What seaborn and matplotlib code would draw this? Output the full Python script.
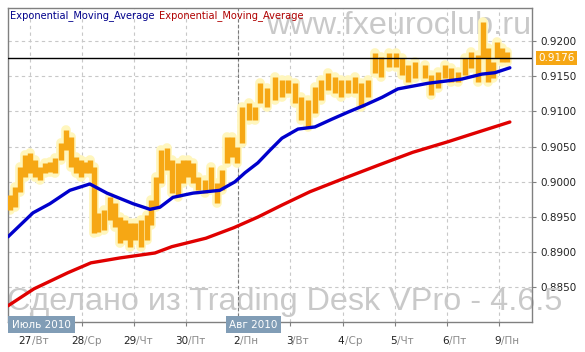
import matplotlib
matplotlib.use("Agg")
import matplotlib.pyplot as plt
import seaborn as sns
import numpy as np
import pandas as pd
from matplotlib.transforms import offset_copy

# ---------------- data (hours counted from 27 Jul 2010 00:00, trading time) ----------------
bar_hours = [-9.0, -6.7, -4.4, -2.1, 0.2, 2.5, 4.8, 7.1, 9.4, 11.7, 14.1, 16.4, 18.7, 21.0,
             23.3, 25.6, 27.9, 29.5, 31.3, 33.9, 37.1, 39.4, 41.7, 44.0, 46.3, 48.6, 51.1,
             53.9, 55.7, 58.0, 60.6, 63.3, 65.6, 68.0, 70.3, 72.6, 74.9, 77.6, 80.6, 83.6,
             86.4, 88.7, 91.0, 93.3, 95.6, 97.9, 100.7, 103.7, 106.2, 109.0, 112.9, 115.9,
             119.1, 122.1, 125.1, 128.3, 131.3, 134.3, 137.5, 140.5, 143.5, 146.7, 149.7,
             152.7, 155.9, 158.9, 161.9, 165.2, 168.6, 171.4, 174.4, 177.6, 182.0, 185.0,
             188.2, 191.2, 194.2, 197.4, 200.4, 203.4, 206.6, 208.9, 211.2, 213.5, 215.4,
             217.7, 220.0]
bar_high = [0.8981, 0.8993, 0.9021, 0.9038, 0.9041, 0.9031, 0.9021, 0.9027, 0.9028, 0.9034,
            0.9055, 0.9074, 0.9064, 0.9035, 0.9031, 0.9028, 0.9031, 0.9021, 0.8956, 0.8960,
            0.8978, 0.8970, 0.8950, 0.8946, 0.8942, 0.8942, 0.8946, 0.8953, 0.8974, 0.9007,
            0.9045, 0.9048, 0.9031, 0.9027, 0.9031, 0.9031, 0.9027, 0.9007, 0.9003, 0.9021,
            0.8998, 0.9017, 0.9064, 0.9064, 0.9050, 0.9106, 0.9112, 0.9106, 0.9140, 0.9133,
            0.9149, 0.9145, 0.9145, 0.9140, 0.9120, 0.9116, 0.9135, 0.9145, 0.9155, 0.9149,
            0.9145, 0.9145, 0.9149, 0.9140, 0.9145, 0.9183, 0.9177, 0.9183, 0.9183, 0.9176,
            0.9166, 0.9170, 0.9166, 0.9152, 0.9156, 0.9166, 0.9162, 0.9156, 0.9176, 0.9184,
            0.9180, 0.9227, 0.9190, 0.9170, 0.9199, 0.9190, 0.9184]
bar_low = [0.8960, 0.8964, 0.8986, 0.9007, 0.9013, 0.9007, 0.9003, 0.9013, 0.9014, 0.9013,
           0.9031, 0.9045, 0.9021, 0.9013, 0.9007, 0.9013, 0.9013, 0.8927, 0.8929, 0.8932,
           0.8946, 0.8936, 0.8913, 0.8917, 0.8908, 0.8917, 0.8908, 0.8917, 0.8939, 0.8964,
           0.8998, 0.9017, 0.8984, 0.8978, 0.8998, 0.9007, 0.8998, 0.8988, 0.8984, 0.8988,
           0.8970, 0.8988, 0.9027, 0.9035, 0.9027, 0.9055, 0.9088, 0.9088, 0.9112, 0.9106,
           0.9116, 0.9120, 0.9126, 0.9112, 0.9088, 0.9078, 0.9098, 0.9116, 0.9130, 0.9126,
           0.9120, 0.9126, 0.9126, 0.9106, 0.9120, 0.9155, 0.9149, 0.9163, 0.9163, 0.9152,
           0.9142, 0.9147, 0.9147, 0.9123, 0.9133, 0.9147, 0.9142, 0.9142, 0.9152, 0.9162,
           0.9142, 0.9176, 0.9142, 0.9147, 0.9176, 0.9170, 0.9170]

ema_fast_hours = [-10.1, 1.4, 9.2, 18.4, 27.6, 35.5, 47.5, 55.3, 59.9, 65.9, 75.1, 87.5,
                  94.4, 99.1, 105.0, 110.6, 116.1, 123.5, 131.3, 139.1, 146.5, 154.3, 162.2,
                  169.5, 183.4, 199.0, 208.2, 214.2, 221.1]
ema_fast = [0.8922, 0.8956, 0.8969, 0.8988, 0.8997, 0.8984, 0.8969, 0.8961, 0.8964, 0.8978,
            0.8984, 0.8988, 0.9000, 0.9013, 0.9027, 0.9045, 0.9062, 0.9075, 0.9078, 0.9089,
            0.9099, 0.9109, 0.9120, 0.9132, 0.9140, 0.9146, 0.9153, 0.9155, 0.9162]

ema_slow_hours = [-10.1, 1.8, 17.5, 28.1, 41.5, 57.6, 65.4, 81.1, 94.0, 105.0, 116.1, 129.0,
                  144.7, 160.8, 176.4, 192.6, 202.7, 221.1]
ema_slow = [0.8824, 0.8848, 0.8871, 0.8885, 0.8892, 0.8899, 0.8908, 0.8920, 0.8935, 0.8950,
            0.8967, 0.8986, 0.9005, 0.9024, 0.9042, 0.9057, 0.9067, 0.9085]

last_price = 0.9176
day_hours = [0, 24, 48, 72, 96, 120, 144, 168, 192, 216]
day_nums = ["27", "28", "29", "30", "2", "3", "4", "5", "6", "9"]
day_names = ["Вт", "Ср", "Чт", "Пт", "Пн", "Вт", "Ср", "Чт", "Пт", "Пн"]
month_labels = ["Июль 2010", "Авг 2010"]
month_hours = [None, 96]
y_ticks = [0.885, 0.890, 0.895, 0.900, 0.905, 0.910, 0.915, 0.920]
legend_labels = ["Exponential_Moving_Average", "Exponential_Moving_Average"]

# ---------------- figure ----------------
sns.set_style("white")
plt.rcParams["font.family"] = ["DejaVu Sans"]

W, H = 585, 352
fig = plt.figure(figsize=(W / 100, H / 100), dpi=100)
ax = fig.add_axes([8 / W, 30 / H, 524 / W, 314 / H])
ax.set_xlim(-10.1, 231.3)
ax.set_ylim(0.8801, 0.92469)

# watermarks (behind data)
wm = dict(color="#c9c9c9", fontsize=23.3, family="Liberation Sans", zorder=0.6, clip_on=False)
ax.text(531 / W, 1 - 33.5 / H, "www.fxeuroclub.ru", transform=fig.transFigure,
        ha="right", va="baseline", **wm)
ax.text(7 / W, 1 - 310 / H, "Сделано из Trading Desk VPro - 4.6.5", transform=fig.transFigure,
        ha="left", va="baseline", **wm)

# grid
ax.set_xticks(day_hours)
ax.set_yticks(y_ticks)
ax.grid(True, color="#c8c8c8", ls=(0, (3, 3)), lw=0.8, zorder=0.5)
ax.axvline(day_hours[4], color="#7a7a7a", ls=(0, (3, 2)), lw=0.8, zorder=0.7)

# candles (high-low bars with glow)
glow = ax.vlines(bar_hours, bar_low, bar_high, color="#fff6bd", lw=7.0, zorder=2)
glow.set_capstyle("round")
ax.vlines(bar_hours, bar_low, bar_high, color="#f6a714", lw=3.9, zorder=3)

# EMAs
df_fast = pd.DataFrame({"h": ema_fast_hours, "v": ema_fast})
df_slow = pd.DataFrame({"h": ema_slow_hours, "v": ema_slow})
sns.lineplot(data=df_slow, x="h", y="v", color="#e00000", lw=2.4, ax=ax, legend=False,
             sort=False, zorder=4)
sns.lineplot(data=df_fast, x="h", y="v", color="#0000cc", lw=2.4, ax=ax, legend=False,
             sort=False, zorder=4)

# last price line
ax.axhline(last_price, color="black", lw=1.0, zorder=5)

ax.set_xlabel("")
ax.set_ylabel("")
for s in ax.spines.values():
    s.set_color("#808080")
    s.set_linewidth(1.0)

ax.yaxis.tick_right()
ax.tick_params(axis="y", which="both", left=False, right=True, labelleft=False, labelright=True,
               length=3, width=0.8, color="#808080", labelsize=7.5, labelcolor="#222222", pad=3)
ax.set_yticklabels([f"{t:.4f}" for t in y_ticks])
ax.tick_params(axis="x", bottom=True, labelbottom=False, length=3, width=0.8, color="#808080")

# last price tag
ax.annotate(f"{last_price:.4f}", xy=(1.0, last_price), xycoords=("axes fraction", "data"),
            xytext=(4.5, 0), textcoords="offset points", ha="left", va="center",
            fontsize=7.5, color="white", annotation_clip=False,
            bbox=dict(boxstyle="square,pad=0.2", fc="#f6a714", ec="none"))

# day labels
xt = ax.get_xaxis_transform()
xt_off = offset_copy(xt, fig=fig, x=2, y=0, units="dots")
for h, n, d in zip(day_hours, day_nums, day_names):
    ax.text(h, -0.062, n, transform=xt_off, ha="right", va="center", fontsize=7.5,
            color="#222222", clip_on=False)
    ax.text(h, -0.062, "/" + d, transform=xt_off, ha="left", va="center", fontsize=7.5,
            color="#8a8a8a", clip_on=False)

# month boxes
box = dict(boxstyle="square,pad=0.35", fc="#819db6", ec="none")
ax.text(0, -0.008, month_labels[0], transform=offset_copy(ax.transAxes, fig=fig, x=4, units="dots"),
        ha="left", va="center", fontsize=7.5, color="white", bbox=box, clip_on=False, zorder=6)
ax.text(month_hours[1], -0.008, month_labels[1], transform=offset_copy(xt, fig=fig, x=-9, units="dots"),
        ha="left", va="center", fontsize=7.5, color="white", bbox=box, clip_on=False, zorder=6)

# legend texts
t1 = fig.text(10 / W, 1 - 16 / H, legend_labels[0], ha="left", va="center", fontsize=7.1,
              color="#00008b", zorder=10)
fig.canvas.draw()
bb = t1.get_window_extent()
fig.text((bb.x1 + 5) / W, 1 - 16 / H, legend_labels[1], ha="left", va="center", fontsize=7.1,
         color="#b00000", zorder=10)

fig.savefig("out.png", dpi=100)
